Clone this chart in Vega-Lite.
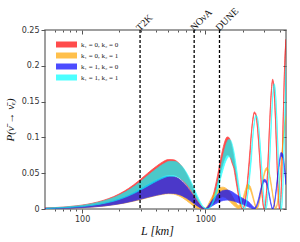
{
  "$schema": "https://vega.github.io/schema/vega-lite/v6.json",
  "width": 241,
  "height": 179,
  "autosize": {"type": "none"},
  "padding": {"left": 45, "top": 30, "right": 14, "bottom": 33},
  "background": "white",
  "config": {
    "view": {"stroke": "#808080", "strokeWidth": 1.5},
    "axis": {"labelFont": "DejaVu Sans", "labelFontSize": 8, "labelColor": "#333", "tickColor": "#555", "domain": false, "grid": false}
  },
  "datasets": {
    "bands": [
      {"s":"k₁ = 0, k₂ = 0","L":50,"hi":0.0014,"lo":0.0010},
      {"s":"k₁ = 0, k₂ = 0","L":60,"hi":0.0020,"lo":0.0014},
      {"s":"k₁ = 0, k₂ = 0","L":70,"hi":0.0027,"lo":0.0019},
      {"s":"k₁ = 0, k₂ = 0","L":80,"hi":0.0036,"lo":0.0025},
      {"s":"k₁ = 0, k₂ = 0","L":100,"hi":0.0055,"lo":0.0038},
      {"s":"k₁ = 0, k₂ = 0","L":120,"hi":0.0079,"lo":0.0055},
      {"s":"k₁ = 0, k₂ = 0","L":150,"hi":0.0123,"lo":0.0085},
      {"s":"k₁ = 0, k₂ = 0","L":180,"hi":0.0173,"lo":0.0119},
      {"s":"k₁ = 0, k₂ = 0","L":220,"hi":0.0250,"lo":0.0173},
      {"s":"k₁ = 0, k₂ = 0","L":260,"hi":0.0334,"lo":0.0230},
      {"s":"k₁ = 0, k₂ = 0","L":295,"hi":0.0409,"lo":0.0282},
      {"s":"k₁ = 0, k₂ = 0","L":340,"hi":0.0500,"lo":0.0345},
      {"s":"k₁ = 0, k₂ = 0","L":400,"hi":0.0597,"lo":0.0412},
      {"s":"k₁ = 0, k₂ = 0","L":450,"hi":0.0658,"lo":0.0454},
      {"s":"k₁ = 0, k₂ = 0","L":500,"hi":0.0690,"lo":0.0476},
      {"s":"k₁ = 0, k₂ = 0","L":550,"hi":0.0688,"lo":0.0475},
      {"s":"k₁ = 0, k₂ = 0","L":600,"hi":0.0651,"lo":0.0449},
      {"s":"k₁ = 0, k₂ = 0","L":650,"hi":0.0584,"lo":0.0403},
      {"s":"k₁ = 0, k₂ = 0","L":700,"hi":0.0491,"lo":0.0339},
      {"s":"k₁ = 0, k₂ = 0","L":750,"hi":0.0383,"lo":0.0264},
      {"s":"k₁ = 0, k₂ = 0","L":810,"hi":0.0247,"lo":0.0170},
      {"s":"k₁ = 0, k₂ = 0","L":860,"hi":0.0145,"lo":0.0100},
      {"s":"k₁ = 0, k₂ = 0","L":920,"hi":0.0050,"lo":0.0035},
      {"s":"k₁ = 0, k₂ = 0","L":970,"hi":0.0007,"lo":0.0005},
      {"s":"k₁ = 0, k₂ = 0","L":1000,"hi":0.0,"lo":0.0},
      {"s":"k₁ = 0, k₂ = 0","L":1050,"hi":0.0021,"lo":0.0015},
      {"s":"k₁ = 0, k₂ = 0","L":1100,"hi":0.0083,"lo":0.0060},
      {"s":"k₁ = 0, k₂ = 0","L":1150,"hi":0.0182,"lo":0.0131},
      {"s":"k₁ = 0, k₂ = 0","L":1200,"hi":0.0311,"lo":0.0224},
      {"s":"k₁ = 0, k₂ = 0","L":1250,"hi":0.0459,"lo":0.0344},
      {"s":"k₁ = 0, k₂ = 0","L":1300,"hi":0.0612,"lo":0.0459},
      {"s":"k₁ = 0, k₂ = 0","L":1350,"hi":0.0757,"lo":0.0568},
      {"s":"k₁ = 0, k₂ = 0","L":1400,"hi":0.0877,"lo":0.0658},
      {"s":"k₁ = 0, k₂ = 0","L":1450,"hi":0.0964,"lo":0.0723},
      {"s":"k₁ = 0, k₂ = 0","L":1500,"hi":0.1006,"lo":0.0755},
      {"s":"k₁ = 0, k₂ = 0","L":1550,"hi":0.0999,"lo":0.0749},
      {"s":"k₁ = 0, k₂ = 0","L":1600,"hi":0.0942,"lo":0.0707},
      {"s":"k₁ = 0, k₂ = 0","L":1650,"hi":0.0842,"lo":0.0632},
      {"s":"k₁ = 0, k₂ = 0","L":1700,"hi":0.0706,"lo":0.0565},
      {"s":"k₁ = 0, k₂ = 0","L":1750,"hi":0.0548,"lo":0.0438},
      {"s":"k₁ = 0, k₂ = 0","L":1800,"hi":0.0385,"lo":0.0308},
      {"s":"k₁ = 0, k₂ = 0","L":1850,"hi":0.0233,"lo":0.0186},
      {"s":"k₁ = 0, k₂ = 0","L":1900,"hi":0.0110,"lo":0.0088},
      {"s":"k₁ = 0, k₂ = 0","L":1950,"hi":0.0029,"lo":0.0023},
      {"s":"k₁ = 0, k₂ = 0","L":2000,"hi":0.0,"lo":0.0},
      {"s":"k₁ = 0, k₂ = 0","L":2060,"hi":0.0042,"lo":0.0037},
      {"s":"k₁ = 0, k₂ = 0","L":2120,"hi":0.0166,"lo":0.0146},
      {"s":"k₁ = 0, k₂ = 0","L":2180,"hi":0.0357,"lo":0.0314},
      {"s":"k₁ = 0, k₂ = 0","L":2240,"hi":0.0594,"lo":0.0523},
      {"s":"k₁ = 0, k₂ = 0","L":2300,"hi":0.0843,"lo":0.0742},
      {"s":"k₁ = 0, k₂ = 0","L":2360,"hi":0.1072,"lo":0.1056},
      {"s":"k₁ = 0, k₂ = 0","L":2420,"hi":0.1250,"lo":0.1231},
      {"s":"k₁ = 0, k₂ = 0","L":2490,"hi":0.1355,"lo":0.1335},
      {"s":"k₁ = 0, k₂ = 0","L":2560,"hi":0.1333,"lo":0.1313},
      {"s":"k₁ = 0, k₂ = 0","L":2630,"hi":0.1185,"lo":0.1167},
      {"s":"k₁ = 0, k₂ = 0","L":2700,"hi":0.0937,"lo":0.0923},
      {"s":"k₁ = 0, k₂ = 0","L":2770,"hi":0.0640,"lo":0.0630},
      {"s":"k₁ = 0, k₂ = 0","L":2840,"hi":0.0347,"lo":0.0342},
      {"s":"k₁ = 0, k₂ = 0","L":2920,"hi":0.0094,"lo":0.0093},
      {"s":"k₁ = 0, k₂ = 0","L":3000,"hi":0.0,"lo":0.0},
      {"s":"k₁ = 0, k₂ = 0","L":3080,"hi":0.0099,"lo":0.0098},
      {"s":"k₁ = 0, k₂ = 0","L":3160,"hi":0.0380,"lo":0.0374},
      {"s":"k₁ = 0, k₂ = 0","L":3240,"hi":0.0785,"lo":0.0773},
      {"s":"k₁ = 0, k₂ = 0","L":3320,"hi":0.1222,"lo":0.1204},
      {"s":"k₁ = 0, k₂ = 0","L":3420,"hi":0.1647,"lo":0.1622},
      {"s":"k₁ = 0, k₂ = 0","L":3510,"hi":0.1813,"lo":0.1786},
      {"s":"k₁ = 0, k₂ = 0","L":3600,"hi":0.1677,"lo":0.1652},
      {"s":"k₁ = 0, k₂ = 0","L":3700,"hi":0.1249,"lo":0.1230},
      {"s":"k₁ = 0, k₂ = 0","L":3800,"hi":0.0678,"lo":0.0668},
      {"s":"k₁ = 0, k₂ = 0","L":3900,"hi":0.0193,"lo":0.0190},
      {"s":"k₁ = 0, k₂ = 0","L":4000,"hi":0.0,"lo":0.0},
      {"s":"k₁ = 0, k₂ = 0","L":4100,"hi":0.0204,"lo":0.0201},
      {"s":"k₁ = 0, k₂ = 0","L":4200,"hi":0.0755,"lo":0.0744},
      {"s":"k₁ = 0, k₂ = 0","L":4300,"hi":0.1467,"lo":0.1445},
      {"s":"k₁ = 0, k₂ = 0","L":4400,"hi":0.2079,"lo":0.2048},
      {"s":"k₁ = 0, k₂ = 0","L":4500,"hi":0.2370,"lo":0.2334},

      {"s":"k₁ = 0, k₂ = 1","L":50,"hi":0.0009,"lo":0.0004},
      {"s":"k₁ = 0, k₂ = 1","L":60,"hi":0.0013,"lo":0.0006},
      {"s":"k₁ = 0, k₂ = 1","L":70,"hi":0.0018,"lo":0.0008},
      {"s":"k₁ = 0, k₂ = 1","L":80,"hi":0.0024,"lo":0.0011},
      {"s":"k₁ = 0, k₂ = 1","L":100,"hi":0.0037,"lo":0.0018},
      {"s":"k₁ = 0, k₂ = 1","L":120,"hi":0.0053,"lo":0.0026},
      {"s":"k₁ = 0, k₂ = 1","L":150,"hi":0.0082,"lo":0.0040},
      {"s":"k₁ = 0, k₂ = 1","L":180,"hi":0.0116,"lo":0.0058},
      {"s":"k₁ = 0, k₂ = 1","L":220,"hi":0.0167,"lo":0.0082},
      {"s":"k₁ = 0, k₂ = 1","L":260,"hi":0.0224,"lo":0.0108},
      {"s":"k₁ = 0, k₂ = 1","L":295,"hi":0.0276,"lo":0.0130},
      {"s":"k₁ = 0, k₂ = 1","L":340,"hi":0.0337,"lo":0.0158},
      {"s":"k₁ = 0, k₂ = 1","L":400,"hi":0.0400,"lo":0.0188},
      {"s":"k₁ = 0, k₂ = 1","L":450,"hi":0.0437,"lo":0.0205},
      {"s":"k₁ = 0, k₂ = 1","L":500,"hi":0.0455,"lo":0.0214},
      {"s":"k₁ = 0, k₂ = 1","L":550,"hi":0.0452,"lo":0.0208},
      {"s":"k₁ = 0, k₂ = 1","L":600,"hi":0.0425,"lo":0.0188},
      {"s":"k₁ = 0, k₂ = 1","L":650,"hi":0.0378,"lo":0.0158},
      {"s":"k₁ = 0, k₂ = 1","L":700,"hi":0.0316,"lo":0.0120},
      {"s":"k₁ = 0, k₂ = 1","L":750,"hi":0.0245,"lo":0.0080},
      {"s":"k₁ = 0, k₂ = 1","L":810,"hi":0.0160,"lo":0.0035},
      {"s":"k₁ = 0, k₂ = 1","L":860,"hi":0.0095,"lo":0.0010},
      {"s":"k₁ = 0, k₂ = 1","L":920,"hi":0.0040,"lo":0.0},
      {"s":"k₁ = 0, k₂ = 1","L":970,"hi":0.0015,"lo":0.0},
      {"s":"k₁ = 0, k₂ = 1","L":1000,"hi":0.0010,"lo":0.0},
      {"s":"k₁ = 0, k₂ = 1","L":1050,"hi":0.0060,"lo":0.0010},
      {"s":"k₁ = 0, k₂ = 1","L":1100,"hi":0.0130,"lo":0.0040},
      {"s":"k₁ = 0, k₂ = 1","L":1200,"hi":0.0240,"lo":0.0100},
      {"s":"k₁ = 0, k₂ = 1","L":1300,"hi":0.0295,"lo":0.0150},
      {"s":"k₁ = 0, k₂ = 1","L":1380,"hi":0.0305,"lo":0.0170},
      {"s":"k₁ = 0, k₂ = 1","L":1450,"hi":0.0295,"lo":0.0160},
      {"s":"k₁ = 0, k₂ = 1","L":1550,"hi":0.0250,"lo":0.0120},
      {"s":"k₁ = 0, k₂ = 1","L":1650,"hi":0.0180,"lo":0.0070},
      {"s":"k₁ = 0, k₂ = 1","L":1750,"hi":0.0100,"lo":0.0030},
      {"s":"k₁ = 0, k₂ = 1","L":1850,"hi":0.0050,"lo":0.0005},
      {"s":"k₁ = 0, k₂ = 1","L":1950,"hi":0.0080,"lo":0.0040},
      {"s":"k₁ = 0, k₂ = 1","L":2000,"hi":0.0130,"lo":0.0080},
      {"s":"k₁ = 0, k₂ = 1","L":2100,"hi":0.0260,"lo":0.0200},
      {"s":"k₁ = 0, k₂ = 1","L":2200,"hi":0.0345,"lo":0.0290},
      {"s":"k₁ = 0, k₂ = 1","L":2300,"hi":0.0320,"lo":0.0270},
      {"s":"k₁ = 0, k₂ = 1","L":2400,"hi":0.0220,"lo":0.0180},
      {"s":"k₁ = 0, k₂ = 1","L":2500,"hi":0.0100,"lo":0.0070},
      {"s":"k₁ = 0, k₂ = 1","L":2600,"hi":0.0020,"lo":0.0},
      {"s":"k₁ = 0, k₂ = 1","L":2700,"hi":0.0080,"lo":0.0050},
      {"s":"k₁ = 0, k₂ = 1","L":2800,"hi":0.0220,"lo":0.0190},
      {"s":"k₁ = 0, k₂ = 1","L":2900,"hi":0.0380,"lo":0.0345},
      {"s":"k₁ = 0, k₂ = 1","L":3000,"hi":0.0510,"lo":0.0475},
      {"s":"k₁ = 0, k₂ = 1","L":3150,"hi":0.0580,"lo":0.0545},
      {"s":"k₁ = 0, k₂ = 1","L":3300,"hi":0.0500,"lo":0.0465},
      {"s":"k₁ = 0, k₂ = 1","L":3450,"hi":0.0300,"lo":0.0270},
      {"s":"k₁ = 0, k₂ = 1","L":3600,"hi":0.0100,"lo":0.0080},
      {"s":"k₁ = 0, k₂ = 1","L":3700,"hi":0.0020,"lo":0.0005},
      {"s":"k₁ = 0, k₂ = 1","L":3800,"hi":0.0060,"lo":0.0040},
      {"s":"k₁ = 0, k₂ = 1","L":3900,"hi":0.0200,"lo":0.0170},
      {"s":"k₁ = 0, k₂ = 1","L":4000,"hi":0.0400,"lo":0.0360},
      {"s":"k₁ = 0, k₂ = 1","L":4100,"hi":0.0620,"lo":0.0580},
      {"s":"k₁ = 0, k₂ = 1","L":4200,"hi":0.0850,"lo":0.0800},
      {"s":"k₁ = 0, k₂ = 1","L":4300,"hi":0.1050,"lo":0.1000},
      {"s":"k₁ = 0, k₂ = 1","L":4400,"hi":0.1200,"lo":0.1150},
      {"s":"k₁ = 0, k₂ = 1","L":4500,"hi":0.1300,"lo":0.1250},

      {"s":"k₁ = 1, k₂ = 0","L":50,"hi":0.0009,"lo":0.0005},
      {"s":"k₁ = 1, k₂ = 0","L":60,"hi":0.0013,"lo":0.0007},
      {"s":"k₁ = 1, k₂ = 0","L":70,"hi":0.0018,"lo":0.0009},
      {"s":"k₁ = 1, k₂ = 0","L":80,"hi":0.0024,"lo":0.0012},
      {"s":"k₁ = 1, k₂ = 0","L":100,"hi":0.0037,"lo":0.0019},
      {"s":"k₁ = 1, k₂ = 0","L":120,"hi":0.0053,"lo":0.0027},
      {"s":"k₁ = 1, k₂ = 0","L":150,"hi":0.0082,"lo":0.0042},
      {"s":"k₁ = 1, k₂ = 0","L":180,"hi":0.0116,"lo":0.0060},
      {"s":"k₁ = 1, k₂ = 0","L":220,"hi":0.0167,"lo":0.0085},
      {"s":"k₁ = 1, k₂ = 0","L":260,"hi":0.0224,"lo":0.0112},
      {"s":"k₁ = 1, k₂ = 0","L":295,"hi":0.0276,"lo":0.0135},
      {"s":"k₁ = 1, k₂ = 0","L":340,"hi":0.0337,"lo":0.0163},
      {"s":"k₁ = 1, k₂ = 0","L":400,"hi":0.0402,"lo":0.0192},
      {"s":"k₁ = 1, k₂ = 0","L":450,"hi":0.0440,"lo":0.0210},
      {"s":"k₁ = 1, k₂ = 0","L":500,"hi":0.0458,"lo":0.0220},
      {"s":"k₁ = 1, k₂ = 0","L":550,"hi":0.0455,"lo":0.0218},
      {"s":"k₁ = 1, k₂ = 0","L":600,"hi":0.0428,"lo":0.0205},
      {"s":"k₁ = 1, k₂ = 0","L":650,"hi":0.0382,"lo":0.0183},
      {"s":"k₁ = 1, k₂ = 0","L":700,"hi":0.0320,"lo":0.0152},
      {"s":"k₁ = 1, k₂ = 0","L":750,"hi":0.0250,"lo":0.0118},
      {"s":"k₁ = 1, k₂ = 0","L":810,"hi":0.0165,"lo":0.0075},
      {"s":"k₁ = 1, k₂ = 0","L":860,"hi":0.0100,"lo":0.0043},
      {"s":"k₁ = 1, k₂ = 0","L":920,"hi":0.0040,"lo":0.0013},
      {"s":"k₁ = 1, k₂ = 0","L":970,"hi":0.0012,"lo":0.0002},
      {"s":"k₁ = 1, k₂ = 0","L":1000,"hi":0.0008,"lo":0.0},
      {"s":"k₁ = 1, k₂ = 0","L":1050,"hi":0.0040,"lo":0.0010},
      {"s":"k₁ = 1, k₂ = 0","L":1100,"hi":0.0090,"lo":0.0030},
      {"s":"k₁ = 1, k₂ = 0","L":1200,"hi":0.0170,"lo":0.0070},
      {"s":"k₁ = 1, k₂ = 0","L":1300,"hi":0.0230,"lo":0.0100},
      {"s":"k₁ = 1, k₂ = 0","L":1400,"hi":0.0260,"lo":0.0120},
      {"s":"k₁ = 1, k₂ = 0","L":1500,"hi":0.0265,"lo":0.0125},
      {"s":"k₁ = 1, k₂ = 0","L":1600,"hi":0.0250,"lo":0.0120},
      {"s":"k₁ = 1, k₂ = 0","L":1700,"hi":0.0225,"lo":0.0110},
      {"s":"k₁ = 1, k₂ = 0","L":1800,"hi":0.0195,"lo":0.0095},
      {"s":"k₁ = 1, k₂ = 0","L":1900,"hi":0.0170,"lo":0.0080},
      {"s":"k₁ = 1, k₂ = 0","L":2000,"hi":0.0150,"lo":0.0065},
      {"s":"k₁ = 1, k₂ = 0","L":2100,"hi":0.0130,"lo":0.0050},
      {"s":"k₁ = 1, k₂ = 0","L":2200,"hi":0.0110,"lo":0.0035},
      {"s":"k₁ = 1, k₂ = 0","L":2300,"hi":0.0080,"lo":0.0020},
      {"s":"k₁ = 1, k₂ = 0","L":2400,"hi":0.0045,"lo":0.0008},
      {"s":"k₁ = 1, k₂ = 0","L":2500,"hi":0.0020,"lo":0.0},
      {"s":"k₁ = 1, k₂ = 0","L":2600,"hi":0.0060,"lo":0.0030},
      {"s":"k₁ = 1, k₂ = 0","L":2700,"hi":0.0150,"lo":0.0110},
      {"s":"k₁ = 1, k₂ = 0","L":2800,"hi":0.0270,"lo":0.0230},
      {"s":"k₁ = 1, k₂ = 0","L":2900,"hi":0.0370,"lo":0.0330},
      {"s":"k₁ = 1, k₂ = 0","L":3000,"hi":0.0415,"lo":0.0380},
      {"s":"k₁ = 1, k₂ = 0","L":3100,"hi":0.0400,"lo":0.0365},
      {"s":"k₁ = 1, k₂ = 0","L":3200,"hi":0.0320,"lo":0.0290},
      {"s":"k₁ = 1, k₂ = 0","L":3300,"hi":0.0200,"lo":0.0175},
      {"s":"k₁ = 1, k₂ = 0","L":3400,"hi":0.0080,"lo":0.0060},
      {"s":"k₁ = 1, k₂ = 0","L":3500,"hi":0.0010,"lo":0.0},
      {"s":"k₁ = 1, k₂ = 0","L":3600,"hi":0.0060,"lo":0.0040},
      {"s":"k₁ = 1, k₂ = 0","L":3700,"hi":0.0200,"lo":0.0170},
      {"s":"k₁ = 1, k₂ = 0","L":3800,"hi":0.0380,"lo":0.0340},
      {"s":"k₁ = 1, k₂ = 0","L":3900,"hi":0.0560,"lo":0.0510},
      {"s":"k₁ = 1, k₂ = 0","L":4000,"hi":0.0700,"lo":0.0650},
      {"s":"k₁ = 1, k₂ = 0","L":4100,"hi":0.0790,"lo":0.0740},
      {"s":"k₁ = 1, k₂ = 0","L":4250,"hi":0.0760,"lo":0.0710},
      {"s":"k₁ = 1, k₂ = 0","L":4400,"hi":0.0550,"lo":0.0510},
      {"s":"k₁ = 1, k₂ = 0","L":4500,"hi":0.0380,"lo":0.0340},

      {"s":"k₁ = 1, k₂ = 1","L":51,"hi":0.0013,"lo":0.0009},
      {"s":"k₁ = 1, k₂ = 1","L":62,"hi":0.0019,"lo":0.0013},
      {"s":"k₁ = 1, k₂ = 1","L":72,"hi":0.0026,"lo":0.0018},
      {"s":"k₁ = 1, k₂ = 1","L":82,"hi":0.0035,"lo":0.0024},
      {"s":"k₁ = 1, k₂ = 1","L":103,"hi":0.0053,"lo":0.0037},
      {"s":"k₁ = 1, k₂ = 1","L":123,"hi":0.0076,"lo":0.0053},
      {"s":"k₁ = 1, k₂ = 1","L":154,"hi":0.0119,"lo":0.0082},
      {"s":"k₁ = 1, k₂ = 1","L":185,"hi":0.0167,"lo":0.0115},
      {"s":"k₁ = 1, k₂ = 1","L":226,"hi":0.0241,"lo":0.0167},
      {"s":"k₁ = 1, k₂ = 1","L":267,"hi":0.0322,"lo":0.0222},
      {"s":"k₁ = 1, k₂ = 1","L":303,"hi":0.0395,"lo":0.0272},
      {"s":"k₁ = 1, k₂ = 1","L":350,"hi":0.0483,"lo":0.0333},
      {"s":"k₁ = 1, k₂ = 1","L":411,"hi":0.0576,"lo":0.0398},
      {"s":"k₁ = 1, k₂ = 1","L":463,"hi":0.0635,"lo":0.0438},
      {"s":"k₁ = 1, k₂ = 1","L":514,"hi":0.0666,"lo":0.0459},
      {"s":"k₁ = 1, k₂ = 1","L":565,"hi":0.0664,"lo":0.0458},
      {"s":"k₁ = 1, k₂ = 1","L":617,"hi":0.0628,"lo":0.0433},
      {"s":"k₁ = 1, k₂ = 1","L":668,"hi":0.0564,"lo":0.0389},
      {"s":"k₁ = 1, k₂ = 1","L":720,"hi":0.0474,"lo":0.0327},
      {"s":"k₁ = 1, k₂ = 1","L":771,"hi":0.0370,"lo":0.0255},
      {"s":"k₁ = 1, k₂ = 1","L":833,"hi":0.0238,"lo":0.0164},
      {"s":"k₁ = 1, k₂ = 1","L":884,"hi":0.0140,"lo":0.0097},
      {"s":"k₁ = 1, k₂ = 1","L":946,"hi":0.0048,"lo":0.0034},
      {"s":"k₁ = 1, k₂ = 1","L":997,"hi":0.0007,"lo":0.0005},
      {"s":"k₁ = 1, k₂ = 1","L":1028,"hi":0.0,"lo":0.0},
      {"s":"k₁ = 1, k₂ = 1","L":1079,"hi":0.0020,"lo":0.0014},
      {"s":"k₁ = 1, k₂ = 1","L":1131,"hi":0.0080,"lo":0.0058},
      {"s":"k₁ = 1, k₂ = 1","L":1182,"hi":0.0176,"lo":0.0126},
      {"s":"k₁ = 1, k₂ = 1","L":1234,"hi":0.0300,"lo":0.0216},
      {"s":"k₁ = 1, k₂ = 1","L":1285,"hi":0.0443,"lo":0.0332},
      {"s":"k₁ = 1, k₂ = 1","L":1336,"hi":0.0591,"lo":0.0443},
      {"s":"k₁ = 1, k₂ = 1","L":1388,"hi":0.0731,"lo":0.0548},
      {"s":"k₁ = 1, k₂ = 1","L":1439,"hi":0.0846,"lo":0.0635},
      {"s":"k₁ = 1, k₂ = 1","L":1491,"hi":0.0930,"lo":0.0698},
      {"s":"k₁ = 1, k₂ = 1","L":1542,"hi":0.0971,"lo":0.0729},
      {"s":"k₁ = 1, k₂ = 1","L":1593,"hi":0.0964,"lo":0.0723},
      {"s":"k₁ = 1, k₂ = 1","L":1645,"hi":0.0909,"lo":0.0682},
      {"s":"k₁ = 1, k₂ = 1","L":1696,"hi":0.0813,"lo":0.0610},
      {"s":"k₁ = 1, k₂ = 1","L":1748,"hi":0.0681,"lo":0.0545},
      {"s":"k₁ = 1, k₂ = 1","L":1799,"hi":0.0529,"lo":0.0423},
      {"s":"k₁ = 1, k₂ = 1","L":1850,"hi":0.0372,"lo":0.0297},
      {"s":"k₁ = 1, k₂ = 1","L":1902,"hi":0.0225,"lo":0.0179},
      {"s":"k₁ = 1, k₂ = 1","L":1953,"hi":0.0106,"lo":0.0085},
      {"s":"k₁ = 1, k₂ = 1","L":2005,"hi":0.0028,"lo":0.0022},
      {"s":"k₁ = 1, k₂ = 1","L":2056,"hi":0.0,"lo":0.0},
      {"s":"k₁ = 1, k₂ = 1","L":2118,"hi":0.0041,"lo":0.0036},
      {"s":"k₁ = 1, k₂ = 1","L":2179,"hi":0.0160,"lo":0.0141},
      {"s":"k₁ = 1, k₂ = 1","L":2241,"hi":0.0345,"lo":0.0303},
      {"s":"k₁ = 1, k₂ = 1","L":2303,"hi":0.0573,"lo":0.0505},
      {"s":"k₁ = 1, k₂ = 1","L":2364,"hi":0.0813,"lo":0.0716},
      {"s":"k₁ = 1, k₂ = 1","L":2426,"hi":0.1034,"lo":0.1019},
      {"s":"k₁ = 1, k₂ = 1","L":2488,"hi":0.1206,"lo":0.1188},
      {"s":"k₁ = 1, k₂ = 1","L":2560,"hi":0.1308,"lo":0.1288},
      {"s":"k₁ = 1, k₂ = 1","L":2632,"hi":0.1286,"lo":0.1267},
      {"s":"k₁ = 1, k₂ = 1","L":2704,"hi":0.1144,"lo":0.1126},
      {"s":"k₁ = 1, k₂ = 1","L":2776,"hi":0.0904,"lo":0.0891},
      {"s":"k₁ = 1, k₂ = 1","L":2848,"hi":0.0618,"lo":0.0608},
      {"s":"k₁ = 1, k₂ = 1","L":2920,"hi":0.0335,"lo":0.0330},
      {"s":"k₁ = 1, k₂ = 1","L":3002,"hi":0.0091,"lo":0.0090},
      {"s":"k₁ = 1, k₂ = 1","L":3084,"hi":0.0,"lo":0.0},
      {"s":"k₁ = 1, k₂ = 1","L":3166,"hi":0.0096,"lo":0.0095},
      {"s":"k₁ = 1, k₂ = 1","L":3248,"hi":0.0367,"lo":0.0361},
      {"s":"k₁ = 1, k₂ = 1","L":3331,"hi":0.0758,"lo":0.0746},
      {"s":"k₁ = 1, k₂ = 1","L":3413,"hi":0.1179,"lo":0.1162},
      {"s":"k₁ = 1, k₂ = 1","L":3516,"hi":0.1589,"lo":0.1565},
      {"s":"k₁ = 1, k₂ = 1","L":3608,"hi":0.1750,"lo":0.1723},
      {"s":"k₁ = 1, k₂ = 1","L":3701,"hi":0.1618,"lo":0.1594},
      {"s":"k₁ = 1, k₂ = 1","L":3804,"hi":0.1205,"lo":0.1187},
      {"s":"k₁ = 1, k₂ = 1","L":3906,"hi":0.0654,"lo":0.0645},
      {"s":"k₁ = 1, k₂ = 1","L":4009,"hi":0.0186,"lo":0.0183},
      {"s":"k₁ = 1, k₂ = 1","L":4112,"hi":0.0,"lo":0.0},
      {"s":"k₁ = 1, k₂ = 1","L":4215,"hi":0.0197,"lo":0.0194},
      {"s":"k₁ = 1, k₂ = 1","L":4318,"hi":0.0729,"lo":0.0718},
      {"s":"k₁ = 1, k₂ = 1","L":4420,"hi":0.1416,"lo":0.1394},
      {"s":"k₁ = 1, k₂ = 1","L":4523,"hi":0.2006,"lo":0.1976}
    ],
    "exps": [
      {"name": "T2K", "L": 295},
      {"name": "NOνA", "L": 810},
      {"name": "DUNE", "L": 1300}
    ]
  },
  "layer": [
    {
      "data": {"name": "bands"},
      "mark": {"type": "area", "opacity": 0.7, "strokeWidth": 0.8, "clip": true, "interpolate": "monotone"},
      "encoding": {
        "x": {
          "field": "L", "type": "quantitative",
          "scale": {"type": "log", "domain": [50, 4500], "nice": false},
          "axis": {
            "orient": "bottom",
            "values": [60, 70, 80, 90, 100, 200, 300, 400, 500, 600, 700, 800, 900, 1000, 2000, 3000, 4000],
            "labelExpr": "datum.value == 100 || datum.value == 1000 ? format(datum.value, 'd') : ''",
            "tickSize": {"condition": {"test": "datum.value == 100 || datum.value == 1000", "value": 4}, "value": 2},
            "labelPadding": 2,
            "title": "L  [km]",
            "titleFont": "Liberation Serif",
            "titleFontStyle": "italic",
            "titleFontWeight": "normal",
            "titleFontSize": 12,
            "titleColor": "#111",
            "titlePadding": 2,
            "titleX": 112
          }
        },
        "y": {
          "field": "hi", "type": "quantitative",
          "scale": {"domain": [0, 0.25], "nice": false, "zero": false},
          "axis": {
            "orient": "left",
            "values": [0, 0.05, 0.1, 0.15, 0.2, 0.25],
            "labelExpr": "datum.value == 0 ? '0' : format(datum.value, '.2~f')",
            "tickSize": 4,
            "labelPadding": 2,
            "title": "P(ν̄ → ν̄ₑ)",
            "titleFont": "Liberation Serif",
            "titleFontStyle": "italic",
            "titleFontWeight": "normal",
            "titleFontSize": 11,
            "titleColor": "#111",
            "titlePadding": 6
          }
        },
        "y2": {"field": "lo"},
        "color": {
          "field": "s", "type": "nominal",
          "scale": {"domain": ["k₁ = 0, k₂ = 0", "k₁ = 0, k₂ = 1", "k₁ = 1, k₂ = 0", "k₁ = 1, k₂ = 1"], "range": ["#ff0000", "#ffa500", "#0000ff", "#00ffff"]},
          "legend": {
            "orient": "none",
            "legendX": 18,
            "legendY": 11,
            "title": null,
            "padding": 0,
            "symbolType": "M-3.5,-1H3.5V1H-3.5Z",
            "symbolSize": 36,
            "symbolOpacity": 0.7,
            "symbolStrokeWidth": 0,
            "labelFont": "Liberation Serif",
            "labelFontSize": 7,
            "labelColor": "#222",
            "labelOffset": 11,
            "rowPadding": 3
          }
        },
        "stroke": {
          "field": "s", "type": "nominal",
          "scale": {"domain": ["k₁ = 0, k₂ = 0", "k₁ = 0, k₂ = 1", "k₁ = 1, k₂ = 0", "k₁ = 1, k₂ = 1"], "range": ["#ff0000", "#ffa500", "#0000ff", "#00ffff"]},
          "legend": null
        }
      }
    },
    {
      "data": {"name": "exps"},
      "mark": {"type": "rule", "color": "black", "strokeWidth": 1.3, "strokeDash": [3, 2]},
      "encoding": {
        "x": {
          "field": "L", "type": "quantitative",
          "axis": {
            "orient": "top",
            "values": [60, 70, 80, 90, 100, 200, 300, 400, 500, 600, 700, 800, 900, 1000, 2000, 3000, 4000],
            "labels": false,
            "tickSize": {"condition": {"test": "datum.value == 100 || datum.value == 1000", "value": -4}, "value": -2},
            "title": null
          }
        }
      }
    },
    {
      "data": {"name": "exps"},
      "mark": {"type": "text", "angle": 315, "align": "left", "baseline": "bottom", "font": "Liberation Serif", "fontSize": 10, "color": "#111", "dx": -1, "dy": 3},
      "encoding": {
        "x": {"field": "L", "type": "quantitative", "axis": null},
        "y": {
          "datum": 0.25,
          "axis": {
            "orient": "right",
            "values": [0, 0.05, 0.1, 0.15, 0.2, 0.25],
            "labels": false,
            "tickSize": -3,
            "title": null
          }
        },
        "text": {"field": "name"}
      }
    }
  ],
  "resolve": {"axis": {"x": "independent", "y": "independent"}}
}
